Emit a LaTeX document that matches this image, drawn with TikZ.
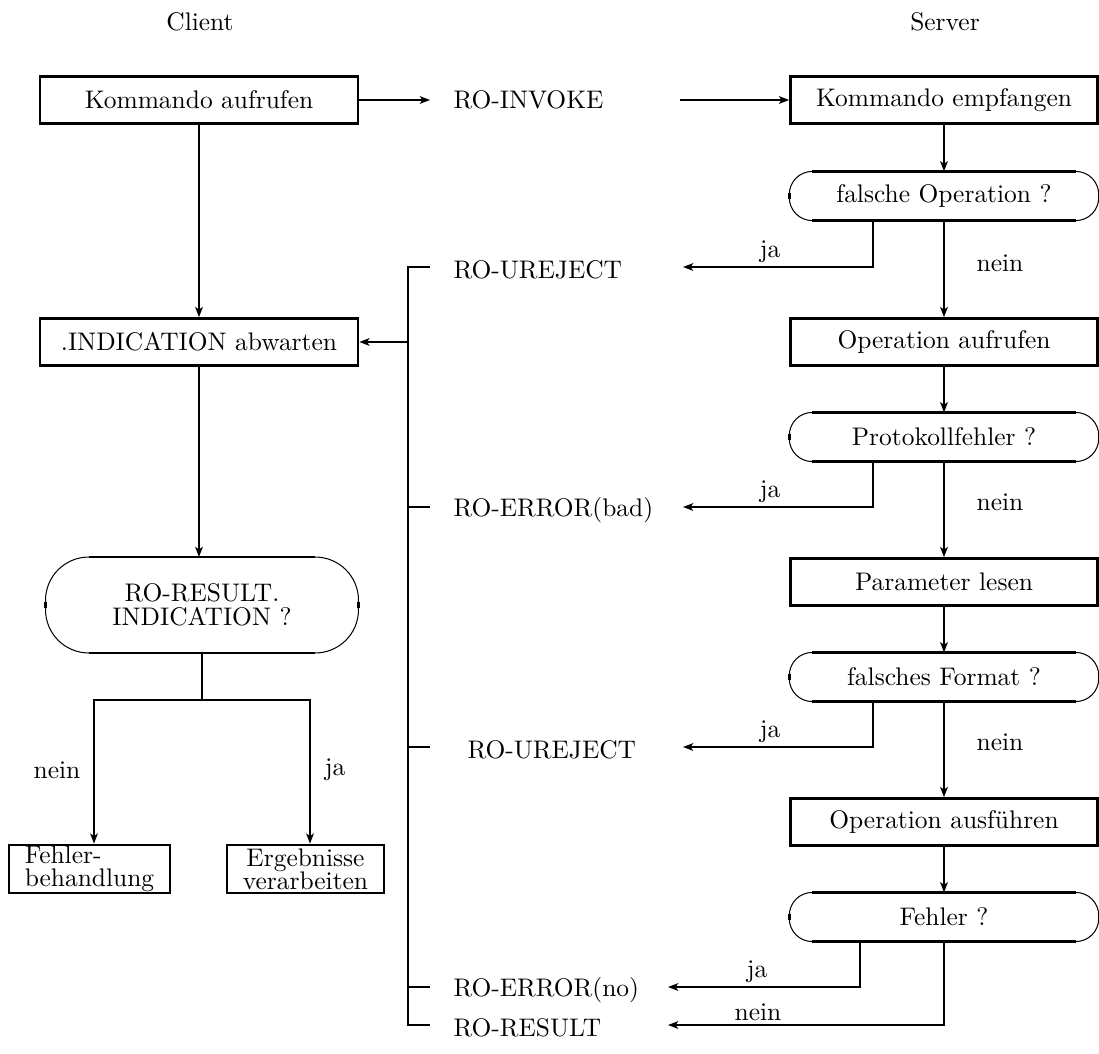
\documentclass[tikz,border=0pt]{standalone}
\usetikzlibrary{arrows.meta,calc}
\newcommand{\rbox}[2]{%
  \draw[line width=0.4pt, rounded corners=#2] (#1.north west) rectangle (#1.south east);
  \draw[line width=1pt] ([xshift=#2]#1.north west) -- ([xshift=-#2]#1.north east);
  \draw[line width=1pt] ([xshift=#2]#1.south west) -- ([xshift=-#2]#1.south east);
  \draw[line width=1pt] ([yshift=1.2pt]#1.west) -- ([yshift=-1.2pt]#1.west);
}
\begin{document}
\begin{tikzpicture}[x=0.393pt,y=0.393pt,
  box/.style={draw,line width=1pt,minimum height=18.5pt,inner sep=0pt,align=center},
  rnode/.style={minimum height=18.9pt,inner sep=0pt,align=center},
  lbl/.style={inner sep=0pt,anchor=west},
  txt/.style={inner sep=0pt},
  con/.style={line width=0.8pt},
  arr/.style={con,-{Stealth[length=4pt,width=3pt,inset=1pt]}}]
\useasboundingbox (0,0) rectangle (1099,-1053);

% headings
\node[txt] (client) at (200,-22) {Client};
\node[txt] (server) at (945,-22) {Server};

% client column
\node[box,minimum width=125pt] (ka) at (199,-100) {Kommando aufrufen};
\node[box,minimum width=125pt] (ia) at (199,-342) {.INDICATION abwarten};
\node[rnode,minimum width=122.6pt,minimum height=37.3pt,font={\fontsize{10}{9.4}\selectfont}] (rr) at (202,-605) {RO-RESULT.\\INDICATION ?};
\node[box,minimum width=63.3pt,minimum height=18.9pt,align=left,font={\fontsize{10}{9}\selectfont}] (fb) at (89.5,-869) {Fehler-\\behandlung};
\node[box,minimum width=61.7pt,minimum height=18.9pt,font={\fontsize{10}{9}\selectfont}] (ev) at (305.5,-869) {Ergebnisse\\verarbeiten};
\rbox{rr}{17pt}
\draw[line width=1pt] ([yshift=1.2pt]rr.east) -- ([yshift=-1.2pt]rr.east);

% server column
\node[box,minimum width=120.7pt] (ke) at (944,-100) {Kommando empfangen};
\node[rnode,minimum width=121.2pt] (fo) at (944,-196) {falsche Operation ?};
\node[box,minimum width=120.7pt] (oa) at (944,-342) {Operation aufrufen};
\node[rnode,minimum width=121.2pt] (pf) at (944,-437) {Protokollfehler ?};
\node[box,minimum width=120.7pt] (pl) at (944,-582) {Parameter lesen};
\node[rnode,minimum width=121.2pt] (ff) at (944,-677) {falsches Format ?};
\node[box,minimum width=120.7pt] (oaf) at (944,-822) {Operation ausführen};
\node[rnode,minimum width=121.2pt] (fe) at (944,-917) {Fehler ?};
\rbox{fo}{9pt}
\rbox{pf}{9pt}
\rbox{ff}{9pt}
\rbox{fe}{9pt}

% message labels
\node[lbl] (inv) at (453,-100) {RO-INVOKE};
\node[lbl] (ur1) at (453,-270) {RO-UREJECT};
\node[lbl] (eb) at (453,-510) {RO-ERROR(bad)};
\node[lbl] (ur2) at (467,-750) {RO-UREJECT};
\node[lbl] (en) at (453,-990) {RO-ERROR(no)};
\node[lbl] (res) at (453,-1028) {RO-RESULT};

% branch labels
\node[txt] (ja1) at (770,-252) {ja};
\node[txt] (ne1) at (1000,-263) {nein};
\node[txt] (ja2) at (770,-492) {ja};
\node[txt] (ne2) at (1000,-502) {nein};
\node[txt] (ja3) at (770,-732) {ja};
\node[txt] (ne3) at (1000,-742) {nein};
\node[txt] (ja4) at (757,-972) {ja};
\node[txt] (ne4) at (758,-1012) {nein};
\node[txt] (neL) at (57,-770) {nein};
\node[txt] (jaL) at (335,-770) {ja};

% coordinates
\coordinate (i1) at (430,-100);
\coordinate (i2) at (680,-100);
\coordinate (b1) at (683,-267);
\coordinate (b2) at (683,-507);
\coordinate (b3) at (683,-747);
\coordinate (b4) at (668,-987);
\coordinate (b5) at (668,-1025);
\coordinate (s1) at (202,-700);
\coordinate (k1) at (430,-267);
\coordinate (k2) at (430,-507);
\coordinate (k3) at (430,-747);
\coordinate (k4) at (430,-987);
\coordinate (k5) at (430,-1025);
\coordinate (m) at (408,-342);

% invoke
\draw[arr] (ka.east) -- (i1);
\draw[arr] (i2) -- (ke.west);

% server flow
\draw[arr] (ke.south) -- (fo.north);
\draw[arr] (fo.south) -- (oa.north);
\draw[arr] (oa.south) -- (pf.north);
\draw[arr] (pf.south) -- (pl.north);
\draw[arr] (pl.south) -- (ff.north);
\draw[arr] (ff.south) -- (oaf.north);
\draw[arr] (oaf.south) -- (fe.north);
\draw[arr] ($(fo.south)+(-71,0)$) |- (b1);
\draw[arr] ($(pf.south)+(-71,0)$) |- (b2);
\draw[arr] ($(ff.south)+(-71,0)$) |- (b3);
\draw[arr] ($(fe.south)+(-84,0)$) |- (b4);
\draw[arr] (fe.south) |- (b5);

% bracket
\draw[con] (k1) -- (k1 -| m) -- (k5 -| m) -- (k5);
\draw[con] (k2 -| m) -- (k2);
\draw[con] (k3 -| m) -- (k3);
\draw[con] (k4 -| m) -- (k4);
\draw[arr] (m) -- (ia.east);

% client flow
\draw[arr] (ka.south) -- (ia.north);
\draw[arr] (ia.south) -- (ia.south |- rr.north);
\draw[con] (rr.south) -- (s1);
\draw[arr] (s1) -| ($(fb.north)+(4.5,0)$);
\draw[arr] (s1) -| ($(ev.north)+(4.5,0)$);
\end{tikzpicture}
\end{document}
